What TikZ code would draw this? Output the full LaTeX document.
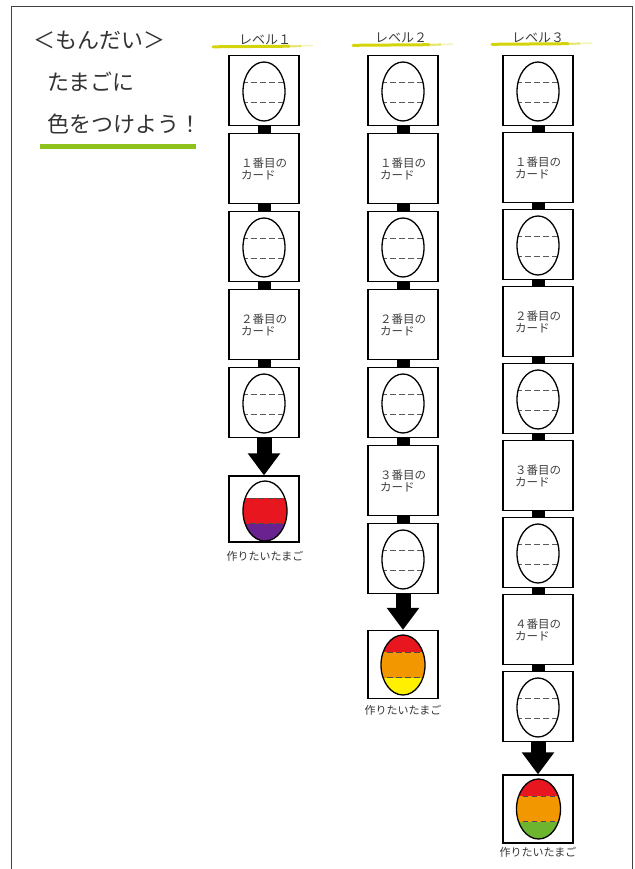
\documentclass[tikz,border=0pt]{standalone}
\usepackage{fontspec}
\setmainfont{Noto Sans CJK JP}
\usetikzlibrary{arrows.meta,calc}
\definecolor{eggred}{HTML}{E8171F}
\definecolor{eggpurple}{HTML}{6A2290}
\definecolor{eggorange}{HTML}{F39700}
\definecolor{eggyellow}{HTML}{FFF000}
\definecolor{egggreen}{HTML}{6DB52F}
\definecolor{barg}{HTML}{8DC21F}
\definecolor{hly}{HTML}{D4D40A}
\definecolor{txt}{HTML}{333333}
\tikzset{
  frameline/.style={draw=black!75,line width=1},
  box/.style={draw=black,line width=1.2,minimum width=70,minimum height=70,inner sep=0pt,fill=white},
  card/.style={align=left,text=black!75,font=\fontsize{11.5}{12}\selectfont},
  eggline/.style={draw=black,line width=1.3},
  dashline/.style={draw=black!65,line width=0.8,dash pattern=on 5.5pt off 3.5pt},
  dashdark/.style={draw=black!70,line width=0.9,dash pattern=on 5.5pt off 3.5pt},
  conn/.style={draw=black,line width=13},
  bigarrow/.style={draw=black,line width=15,-{Triangle[width=31pt,length=22pt]}},
  titletext/.style={anchor=west,inner sep=0pt,text=txt,font=\fontsize{22}{26}\selectfont},
  headtext/.style={inner sep=0pt,text=black!75,font=\fontsize{13}{15}\selectfont},
  labeltext/.style={inner sep=0pt,text=txt,font=\fontsize{11}{13}\selectfont},
  hl/.style={draw=hly,line width=3,line cap=round},
}
\newcommand\plainegg[1]{%
  \begin{scope}[shift={(#1)}]
    \begin{scope}
      \clip (0,1) ellipse [x radius=21,y radius=29.5];
      \draw[dashline] (-22,-8.5) -- (22,-8.5);
      \draw[dashline] (-22,11.5) -- (22,11.5);
    \end{scope}
    \draw[eggline] (0,1) ellipse [x radius=21,y radius=29.5];
  \end{scope}}
\newcommand\coloregg[4]{%
  \begin{scope}[shift={(#1)}]
    \begin{scope}
      \clip (0,0) ellipse [x radius=22,y radius=30];
      \fill[#2] (-25,-32) rectangle (25,-13);
      \fill[#3] (-25,-13) rectangle (25,12.5);
      \fill[#4] (-25,12.5) rectangle (25,32);
      \draw[dashdark] (-25,-13) -- (25,-13);
      \draw[dashdark] (-25,12.5) -- (25,12.5);
    \end{scope}
    \draw[eggline] (0,0) ellipse [x radius=22,y radius=30];
  \end{scope}}
\newcommand\highl[2]{% start x, y
  \draw[hl] (#1,#2+0.3) -- ++(76,-0.6);
  \draw[draw=hly,line width=2.2,opacity=0.55] (#1+74,#2) -- ++(14,-0.5);
  \draw[draw=hly,line width=1.4,opacity=0.3] (#1+86,#2-0.4) -- ++(14,-0.6);}
\begin{document}
\begin{tikzpicture}[x=1pt,y=-1pt]
\useasboundingbox (0,0) rectangle (634,869);
\draw[frameline] (11.5,870) -- (11.5,6.5) -- (632,6.5) -- (632,870);

% title
\node[titletext] (t1) at (33,40) {＜もんだい＞};
\node[titletext] (t2) at (47,82) {たまごに};
\node[titletext] (t3) at (47,124) {色をつけよう！};
\fill[barg] (40,144) rectangle (196,149.5);

% headers
\highl{213}{46.5}
\node[headtext] (H1) at (265,39.5) {レベル１};
\highl{353}{45}
\node[headtext] (H2) at (401,38) {レベル２};
\highl{492}{44}
\node[headtext] (H3) at (538,38) {レベル３};

% ---------- level 1 ----------
\foreach \i in {0,2,4} {\node[box] (A\i) at (264,{90.5+78*\i}) {}; \plainegg{A\i}}
\foreach \i/\k in {1/１,3/２} {\node[box,card] (A\i) at (264,{90.5+78*\i}) {\k 番目の\\カード};}
\foreach \i/\j in {0/1,1/2,2/3,3/4} {\draw[conn] (A\i.south) -- (A\j.north);}
\node[box,minimum height=66] (AF) at (264,509) {};
\draw[bigarrow] (A4.south) -- (AF.north);
\coloregg{$(AF)+(1,2)$}{white}{eggred}{eggpurple}
\node[labeltext] (AL) at (265,556) {作りたいたまご};

% ---------- level 2 ----------
\foreach \i in {0,2,4,6} {\node[box] (B\i) at (403,{90.5+78*\i}) {}; \plainegg{B\i}}
\foreach \i/\k in {1/１,3/２,5/３} {\node[box,card] (B\i) at (403,{90.5+78*\i}) {\k 番目の\\カード};}
\foreach \i/\j in {0/1,1/2,2/3,3/4,4/5,5/6} {\draw[conn] (B\i.south) -- (B\j.north);}
\node[box,minimum height=68] (BF) at (403,664.5) {};
\draw[bigarrow] (B6.south) -- (BF.north);
\coloregg{$(BF)+(0,0.5)$}{eggred}{eggorange}{eggyellow}
\node[labeltext] (BL) at (403,710) {作りたいたまご};

% ---------- level 3 ----------
\foreach \i in {0,2,4,6,8} {\node[box] (C\i) at (538,{90.5+77*\i}) {}; \plainegg{C\i}}
\foreach \i/\k in {1/１,3/２,5/３,7/４} {\node[box,card] (C\i) at (538,{90.5+77*\i}) {\k 番目の\\カード};}
\foreach \i/\j in {0/1,1/2,2/3,3/4,4/5,5/6,6/7,7/8} {\draw[conn] (C\i.south) -- (C\j.north);}
\node[box,minimum height=68] (CF) at (538,809) {};
\draw[bigarrow] (C8.south) -- (CF.north);
\coloregg{$(CF)+(0.5,0)$}{eggred}{eggorange}{egggreen}
\node[labeltext] (CL) at (538,852) {作りたいたまご};
\end{tikzpicture}
\end{document}
